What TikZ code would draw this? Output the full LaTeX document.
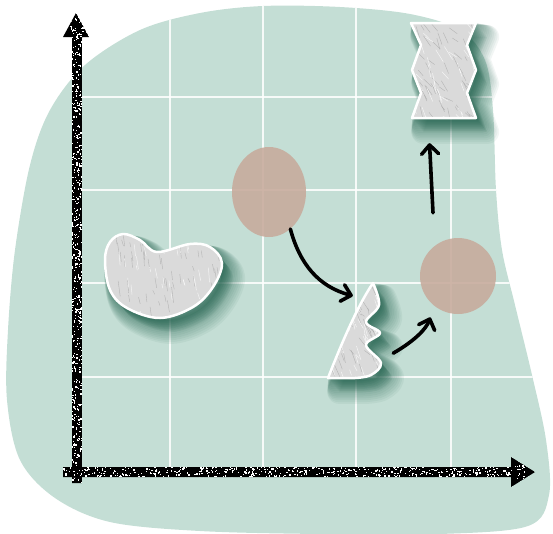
\documentclass[tikz,border=0pt]{standalone}
\usetikzlibrary{arrows.meta,shapes.geometric}
\definecolor{mlmint}{RGB}{196,222,213}
\definecolor{mlshadow}{RGB}{30,95,75}
\definecolor{mltan}{RGB}{199,170,155}
\definecolor{mlsilver}{RGB}{218,218,218}
\definecolor{mlstreak}{RGB}{150,150,150}

\newcommand{\blobpath}{plot[smooth cycle,tension=0.55] coordinates {(263,6) (340,7) (410,14) (460,30) (485,60) (493,110) (496,190) (502,250) (515,305) (532,375) (546,440) (549,495) (528,526) (440,534) (320,534) (200,531) (110,522) (55,498) (20,460) (7,400) (8,330) (15,250) (30,165) (50,110) (85,65) (140,30) (200,13)}}
\newcommand{\beanpath}{plot[smooth cycle,tension=0.6] coordinates {(123,234) (140,240) (157,252) (190,244) (210,247) (222,263) (213,287) (193,307) (160,318) (127,308) (110,290) (105,260) (110,242)}}
\newcommand{\tripath}{(328,378) .. controls (342,342) and (358,305) .. (373,283) -- plot[smooth,tension=0.6] coordinates {(373,283) (379,305) (366,322) (380,333) (366,345) (381,363) (371,375) (355,378)} -- cycle}
\newcommand{\zigpath}{(411,23) -- (476,23) -- (467,45) -- (476,70) -- (467,93) -- (476,118) -- (412,118) -- (421,93) -- (412,70) -- (421,45) -- cycle}
\newcommand{\yaxispath}{(72,483) -- (72,37) -- (63,37) -- (76,13) -- (89,37) -- (82,37) -- (82,483) -- cycle}
\newcommand{\xaxispath}{(63,467) -- (511,467) -- (511,457) -- (535,472) -- (511,487) -- (511,477) -- (63,477) -- cycle}

% blurred drop shadow under a cut-out
\newcommand{\softshadow}[1]{%
  \foreach \i in {1,...,14}{\path[fill=mlshadow,draw=mlshadow,line width={1.7*\i},line join=round,opacity=0.06,shift={({0.8*\i},{1.0*\i})}] #1;}}
% silver cut-out: path, x0, y0, w, h, streak angle
\newcommand{\silverfill}[6]{%
  \begin{scope}
    \clip #1;
    \fill[mlsilver] #1;
    \foreach \k in {1,...,70}{\draw[mlstreak,line width=0.4,opacity=0.55] ({#2+rnd*#4},{#3+rnd*#5}) -- ++(#6:{4+rnd*12});}
    \foreach \k in {1,...,40}{\draw[white,line width=0.5,opacity=0.7] ({#2+rnd*#4},{#3+rnd*#5}) -- ++(#6:{4+rnd*12});}
  \end{scope}
  \draw[white,line width=2.5,line join=round] #1;}
% speckled black axis: path, x0, y0, w, h
\newcommand{\speckle}[5]{%
  \begin{scope}
    \clip #1;
    \fill[black] #1;
    \foreach \k in {1,...,700}{\fill[white] ({#2+rnd*#4},{#3+rnd*#5}) rectangle ++(1.3,1.3);}
  \end{scope}}

\tikzset{
  gridline/.style={white,line width=1.4,opacity=0.85},
  spot/.style={ellipse,fill=mltan,fill opacity=0.88,inner sep=0pt},
  shapebox/.style={inner sep=0pt},
  handarrow/.style={line width=3.6pt,line cap=round,-{Straight Barb[length=9pt,width=17pt,round]}}
}

\begin{document}
\begin{tikzpicture}[x=1pt,y=-1pt]
  \pgfmathsetseed{11}
  \useasboundingbox (0,0) rectangle (553,533);
  \fill[mlmint] \blobpath;
  \begin{scope}
    \clip \blobpath;
    \foreach \gx in {170,263,356,451} \draw[gridline] (\gx,0) -- (\gx,472);
    \foreach \gy in {97,190,283,377} \draw[gridline] (77,\gy) -- (553,\gy);
  \end{scope}
  % shadows
  \softshadow{\beanpath}
  \softshadow{\tripath}
  \softshadow{\zigpath}
  % spots and cut-outs
  \node[spot,minimum width=74pt,minimum height=90pt] (circA) at (269,192) {};
  \node[spot,minimum size=76pt] (circB) at (458,276) {};
  \silverfill{\beanpath}{103}{230}{122}{92}{82}
  \silverfill{\tripath}{326}{280}{58}{100}{65}
  \silverfill{\zigpath}{409}{20}{70}{100}{58}
  \node[shapebox,minimum width=51pt,minimum height=95pt] (tri) at (353.5,330.5) {};
  \node[shapebox,minimum width=65pt,minimum height=95pt] (zig) at (443.5,70.5) {};
  % arrows
  \draw[handarrow] (circA.-60) to[out=-75,in=165] ([xshift=25pt,yshift=-13pt]tri.north west);
  \draw[handarrow,shorten >=12pt] ([xshift=14pt,yshift=25pt]tri.south east) to[out=30,in=-110] (circB.232);
  \draw[handarrow] ([xshift=-25pt,yshift=25pt]circB.north) -- ([xshift=-14pt,yshift=-25pt]zig.south);
  % axes
  \speckle{\yaxispath}{70}{13}{14}{470}
  \speckle{\xaxispath}{63}{465}{472}{14}
\end{tikzpicture}
\end{document}
